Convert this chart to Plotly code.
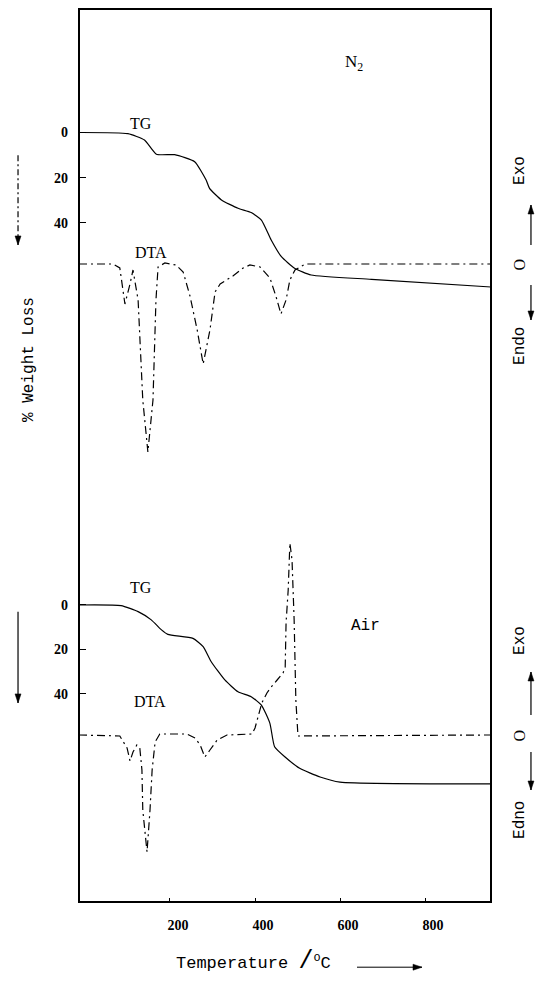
import plotly.graph_objects as go

# ---------------- data ----------------
# N2 atmosphere
tg_n2_T = [-14, 101, 140, 168, 211, 258, 285, 293, 321, 360, 391, 415, 438, 462, 493, 532, 674, 955]
tg_n2_W = [0, 0.5, 3.3, 9.6, 9.8, 12.9, 21, 24.7, 29.8, 33.5, 35.4, 38.7, 47.5, 54.9, 60, 63, 64.9, 68.3]

dta_n2_T = [-14, 66, 82, 94, 106, 113, 125, 136, 148, 160, 167, 172, 188, 214, 231, 247, 264, 278,
            294, 306, 318, 348, 372, 388, 412, 435, 449, 461, 473, 482, 494, 518, 955]
dta_n2_S = [0, 0, -1, -10, -5, -1.5, -9, -34, -47, -34, -9, -0.75, 0.25, -0.25, -2, -8, -16.5, -25,
            -16.5, -7, -5, -3, -1, -0.25, -0.75, -3.5, -8, -12.5, -9, -4, -1.5, 0, 0]

# Air atmosphere
tg_air_T = [-14, 85, 125, 156, 180, 195, 254, 278, 297, 329, 360, 391, 415, 435, 446, 470, 505, 553, 600, 955]
tg_air_W = [0, 0.3, 3, 6.7, 11.2, 13.2, 15, 18.7, 25.5, 33.7, 39, 41.2, 45, 53.2, 63.7, 68.2, 73.4, 77.3, 79.6, 80.4]

dta_air_T = [-14, 82, 99, 106, 113, 122, 129, 134, 136, 146, 153, 158, 165, 176, 240, 259, 271, 282,
             294, 311, 334, 393, 400, 407, 416, 428, 438, 452, 466, 471, 473, 478, 482, 487, 492, 496, 501, 955]
dta_air_S = [0, -0.25, -3.25, -6.5, -4.25, -2.5, -3.25, -8.75, -18.75, -29.25, -18.75, -8.75, -1.75, 0.25,
             0.25, -0.75, -2.5, -5.5, -3.75, -1.25, 0, 0.25, 1.75, 4.5, 8, 10.5, 12, 13.75, 15.5, 17, 28,
             36.25, 48, 43.75, 28.75, 8.75, -0.25, 0]

x_ticks = [200, 400, 600, 800]
w_ticks = [0, 20, 40]

# ---------------- figure ----------------
fig = go.Figure()
DTA_DASH = "8px,4px,2px,4px"

fig.add_trace(go.Scatter(x=tg_n2_T, y=tg_n2_W, xaxis="x", yaxis="y", mode="lines",
                         line=dict(color="black", width=1.2, shape="spline", smoothing=0.5)))
fig.add_trace(go.Scatter(x=dta_n2_T, y=dta_n2_S, xaxis="x", yaxis="y2", mode="lines",
                         line=dict(color="black", width=1.2, dash=DTA_DASH)))
fig.add_trace(go.Scatter(x=tg_air_T, y=tg_air_W, xaxis="x", yaxis="y3", mode="lines",
                         line=dict(color="black", width=1.2, shape="spline", smoothing=0.5)))
fig.add_trace(go.Scatter(x=dta_air_T, y=dta_air_S, xaxis="x", yaxis="y4", mode="lines",
                         line=dict(color="black", width=1.2, dash=DTA_DASH)))

tickfont = dict(family="Liberation Serif", size=14, color="black", weight="bold")
split = 0.4726

ycommon = dict(tickvals=w_ticks, ticktext=[str(v) for v in w_ticks], ticks="inside", ticklen=7,
               tickwidth=1.3, tickcolor="black", showgrid=False, zeroline=False, showline=False,
               tickfont=tickfont, ticklabelstandoff=10)

fig.update_layout(
    width=537, height=982,
    margin=dict(l=79, r=46, t=9, b=80),
    paper_bgcolor="white", plot_bgcolor="white",
    showlegend=False,
    xaxis=dict(domain=[0, 1], anchor="y3", range=[-14, 955], tickvals=x_ticks,
               ticks="inside", ticklen=4, tickwidth=1.2, tickcolor="black",
               showgrid=False, zeroline=False, showline=False,
               tickfont=tickfont, ticklabelshift=8, ticklabelstandoff=13),
    yaxis=dict(domain=[split, 1], anchor="x", range=[153.6, -54.6], **ycommon),
    yaxis2=dict(overlaying="y", anchor="x", range=[-54, 63.75], visible=False),
    yaxis3=dict(domain=[0, split], anchor="x", range=[133.48, -56.18], **ycommon),
    yaxis4=dict(overlaying="y3", anchor="x", range=[-41.75, 63.75], visible=False),
)

# frame
fig.add_shape(type="rect", xref="paper", yref="paper", x0=0, x1=1, y0=0, y1=1,
              line=dict(color="black", width=2), layer="above")

serif = "Liberation Serif"
mono = "Liberation Mono"
ann = []

def txt(x, y, s, font=serif, size=16, angle=0, xref="paper", yref="paper", **kw):
    ann.append(dict(x=x, y=y, xref=xref, yref=yref, text=s, showarrow=False, textangle=angle,
                    font=dict(family=font, size=size, color="black"), **kw))

def vline(x, y0, y1, yref, dash="solid", width=1.2):
    fig.add_shape(type="line", xref="paper", yref=yref, x0=x, x1=x, y0=y0, y1=y1,
                  line=dict(color="black", width=width, dash=dash))

def head(x, y, yref, direction, xref="paper"):
    # tip at anchor, size in pixels (pixel y grows upward)
    paths = {
        "down": "M0,0 L-3,9 L3,9 Z",
        "up": "M0,0 L-3,-9 L3,-9 Z",
        "right": "M0,0 L-9,-3 L-9,3 Z",
    }
    fig.add_shape(type="path", xref=xref, yref=yref, xsizemode="pixel", ysizemode="pixel",
                  xanchor=x, yanchor=y, path=paths[direction],
                  fillcolor="black", line=dict(color="black", width=0.5))

# panel labels
txt(0.119, 0.8835, "TG")
txt(0.131, 0.739, "DTA")
txt(0.119, 0.3527, "TG")
txt(0.129, 0.2128, "DTA")
txt(0.694, 0.954, "N<sub>2</sub>", size=17)
txt(0.735, 0.2968, "Air", font=mono, size=16)

# left axis title and arrows
lx = -0.148
txt(lx, 0.607, "% Weight Loss", font=mono, size=16, angle=-90)
vline(lx, 10, 49.7, "y", dash="6px,3px,2px,3px")
head(lx, 49.7, "y", "down")
vline(lx, 3, 44, "y3")
head(lx, 44, "y3", "down")

# right side Exo / Endo  (DTA units: 4 px per unit)
rx = 1.097
txt(rx, 23.5, "Exo", font=mono, size=16, angle=-90, yref="y2")
vline(rx, 4.75, 14.75, "y2")
head(rx, 14.75, "y2", "up")
txt(rx, 0, "O", font=serif, size=16, angle=-90, yref="y2")
vline(rx, -5.25, -14, "y2")
head(rx, -14, "y2", "down")
txt(rx, -20.5, "Endo", font=mono, size=16, angle=-90, yref="y2")

txt(rx, 23.75, "Exo", font=mono, size=16, angle=-90, yref="y4")
vline(rx, 5, 15.75, "y4")
head(rx, 15.75, "y4", "up")
txt(rx, 0, "O", font=serif, size=16, angle=-90, yref="y4")
vline(rx, -4.25, -13.75, "y4")
head(rx, -13.75, "y4", "down")
txt(rx, -21.25, "Edno", font=mono, size=16, angle=-90, yref="y4")

# x-axis title
txt((253 - 79) / 412, -0.0855, "Temperature <span style='font-size:25px'>/</span><sup>o</sup>C", font=mono, size=17)
fig.add_shape(type="line", xref="paper", yref="paper", x0=(357 - 79) / 412, x1=(422 - 79) / 412,
              y0=-0.073, y1=-0.073, line=dict(color="black", width=1.0))
head((422 - 79) / 412, -0.073, "paper", "right")

fig.update_layout(annotations=ann)
fig.write_html("out.html")
